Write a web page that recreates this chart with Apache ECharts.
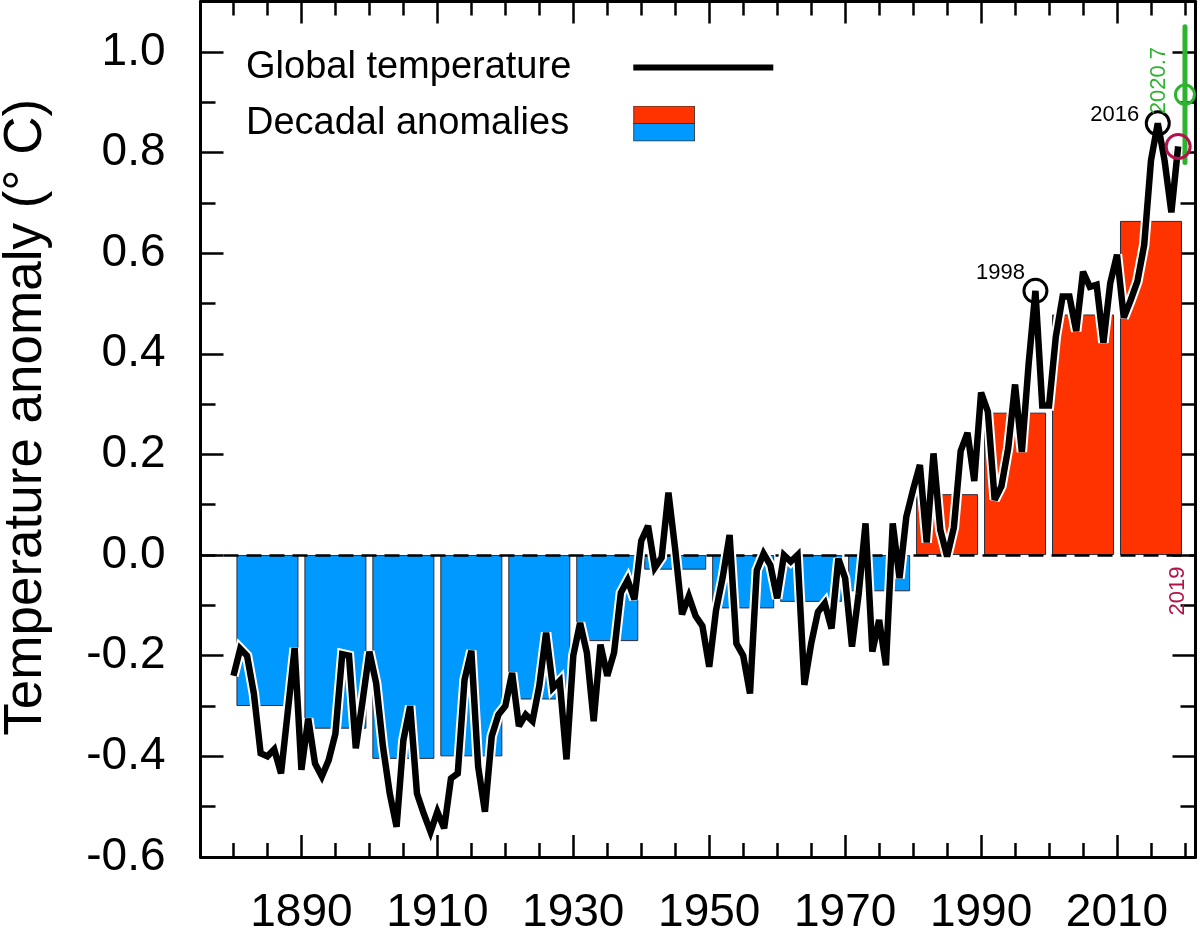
<!DOCTYPE html>
<html>
<head>
<meta charset="utf-8">
<script src="https://cdn.jsdelivr.net/npm/echarts@6/dist/echarts.min.js"></script>
<style>
html,body{margin:0;padding:0;background:#ffffff;}
#chart{width:1200px;height:930px;}
</style>
</head>
<body>
<div id="chart"></div>
<script>
// ---------------- DATA ----------------
const years = [
  1880,1881,1882,1883,1884,1885,1886,1887,1888,1889,
  1890,1891,1892,1893,1894,1895,1896,1897,1898,1899,
  1900,1901,1902,1903,1904,1905,1906,1907,1908,1909,
  1910,1911,1912,1913,1914,1915,1916,1917,1918,1919,
  1920,1921,1922,1923,1924,1925,1926,1927,1928,1929,
  1930,1931,1932,1933,1934,1935,1936,1937,1938,1939,
  1940,1941,1942,1943,1944,1945,1946,1947,1948,1949,
  1950,1951,1952,1953,1954,1955,1956,1957,1958,1959,
  1960,1961,1962,1963,1964,1965,1966,1967,1968,1969,
  1970,1971,1972,1973,1974,1975,1976,1977,1978,1979,
  1980,1981,1982,1983,1984,1985,1986,1987,1988,1989,
  1990,1991,1992,1993,1994,1995,1996,1997,1998,1999,
  2000,2001,2002,2003,2004,2005,2006,2007,2008,2009,
  2010,2011,2012,2013,2014,2015,2016,2017,2018,2019
];
const globalTemp = [
  -0.24,-0.186,-0.20,-0.275,-0.394,-0.40,-0.386,-0.434,-0.31,-0.185,
  -0.427,-0.325,-0.414,-0.44,-0.408,-0.355,-0.197,-0.20,-0.384,-0.29,
  -0.192,-0.255,-0.381,-0.474,-0.54,-0.368,-0.30,-0.474,-0.514,-0.55,
  -0.51,-0.543,-0.444,-0.434,-0.248,-0.19,-0.42,-0.51,-0.36,-0.317,
  -0.30,-0.234,-0.34,-0.317,-0.33,-0.26,-0.154,-0.264,-0.25,-0.406,
  -0.20,-0.135,-0.194,-0.33,-0.178,-0.24,-0.194,-0.075,-0.05,-0.088,
  0.028,0.058,-0.025,-0.005,0.124,0.011,-0.118,-0.082,-0.121,-0.141,
  -0.222,-0.11,-0.043,0.04,-0.176,-0.20,-0.275,-0.03,0.003,-0.02,
  -0.086,0.0,-0.013,0.0,-0.258,-0.176,-0.113,-0.096,-0.146,-0.007,
  -0.046,-0.182,-0.076,0.063,-0.192,-0.129,-0.219,0.063,-0.046,0.076,
  0.13,0.179,0.025,0.202,0.05,-0.003,0.055,0.207,0.243,0.147,
  0.323,0.285,0.110,0.137,0.213,0.339,0.205,0.38,0.525,0.297,
  0.297,0.434,0.514,0.514,0.445,0.563,0.533,0.537,0.422,0.54,
  0.597,0.472,0.506,0.544,0.616,0.784,0.858,0.784,0.681,0.812
];
const decadeCenters = [1885,1895,1905,1915,1925,1935,1945,1955,1965,1975,1985,1995,2005,2015];
const decadalAnomaly = [-0.30,-0.345,-0.405,-0.40,-0.287,-0.171,-0.029,-0.106,-0.093,-0.072,0.121,0.283,0.478,0.664];

const recordYears = [1998, 2016];
const recordValues = [0.525, 0.858];
const latestYear = 2019;
const latestValue = 0.812;
const partialYear = 2020;
const partialLabel = '2020.7';
const partialValue = 0.915;
const partialLow = 0.78;
const partialHigh = 1.05;

const xMajorTicks = [1890,1910,1930,1950,1970,1990,2010];
const xMinorTicks = [1880,1885,1890,1895,1900,1905,1910,1915,1920,1925,1930,1935,1940,1945,1950,1955,1960,1965,1970,1975,1980,1985,1990,1995,2000,2005,2010,2015,2020];
const yMajorTicks = [-0.6,-0.4,-0.2,0.0,0.2,0.4,0.6,0.8,1.0];
const yMinorTicks = [-0.5,-0.4,-0.3,-0.2,-0.1,0.0,0.1,0.2,0.3,0.4,0.5,0.6,0.7,0.8,0.9,1.0];

const seriesNames = { line: 'Global temperature', bars: 'Decadal anomalies' };
const yTitle = 'Temperature anomaly (° C)';

// ---------------- STYLE ----------------
const FONT = "'Liberation Sans', Arial, Helvetica, sans-serif";
const RED = '#ff3300', BLUE = '#0099ff', CRIMSON = '#b3124a', GREEN = '#2db32d';
const X_MIN = 1875.15, X_MAX = 2021.55, Y_MIN = -0.6, Y_MAX = 1.1;
const GRID = { left: 200.5, right: 4.5, top: 1.5, bottom: 73, containLabel: false, outerBoundsMode: 'none' };

function xAx(gridIndex, position, ticks, len, withLine, labels) {
  return {
    type: 'value', gridIndex, position, min: X_MIN, max: X_MAX,
    axisLine: { show: withLine, onZero: false, lineStyle: { color: '#000', width: 3 } },
    axisTick: { show: true, inside: true, length: len, customValues: ticks, lineStyle: { color: '#000', width: 2.5 } },
    axisLabel: labels ? { show: true, customValues: labels, margin: 33, fontSize: 46, fontFamily: FONT, color: '#000', formatter: v => String(Math.round(v)) } : { show: false },
    splitLine: { show: false }
  };
}
function yAx(gridIndex, position, ticks, len, withLine, labels) {
  const ax = {
    type: 'value', gridIndex, position, min: Y_MIN, max: Y_MAX,
    axisLine: { show: withLine, onZero: false, lineStyle: { color: '#000', width: 3 } },
    axisTick: { show: true, inside: true, length: len, customValues: ticks, lineStyle: { color: '#000', width: 2.5 } },
    axisLabel: labels ? { show: true, customValues: labels, margin: 35, fontSize: 46, fontFamily: FONT, color: '#000', formatter: v => v.toFixed(1) } : { show: false },
    splitLine: { show: false }
  };
  if (labels) {
    ax.name = yTitle;
    ax.nameLocation = 'middle';
    ax.nameGap = 148;
    ax.nameRotate = 90;
    ax.nameTextStyle = { fontSize: 53, fontFamily: FONT, color: '#000', padding: [0, 0, 0, 24] };
  }
  return ax;
}

const boxSvg = "<svg xmlns='http://www.w3.org/2000/svg' width='62' height='36'>" +
  "<rect x='0.5' y='0.5' width='61' height='17.5' fill='" + RED + "' stroke='#333' stroke-width='1'/>" +
  "<rect x='0.5' y='18' width='61' height='17.5' fill='" + BLUE + "' stroke='#333' stroke-width='1'/></svg>";
const boxIcon = 'image://data:image/svg+xml;charset=utf-8,' + encodeURIComponent(boxSvg);

const lineData = years.map((y, i) => [y, globalTemp[i]]);
const barData = decadeCenters.map((c, i) => [c, decadalAnomaly[i]]);
const recordLabelOffsets = [[-35, -18], [-43, -8]];
const recordData = recordYears.map((y, i) => ({
  value: [y, recordValues[i]],
  label: { show: true, position: 'inside', offset: recordLabelOffsets[i], formatter: String(y), fontSize: 22, fontFamily: FONT, color: '#000' }
}));

const option = {
  backgroundColor: '#ffffff',
  animation: false,
  grid: [
    Object.assign({}, GRID),
    Object.assign({}, GRID)
  ],
  xAxis: [
    xAx(0, 'bottom', xMajorTicks, 22, true, xMajorTicks),
    xAx(0, 'top', xMajorTicks, 22, true, null),
    xAx(1, 'bottom', xMinorTicks, 14, false, null),
    xAx(1, 'top', xMinorTicks, 14, false, null)
  ],
  yAxis: [
    yAx(0, 'left', yMajorTicks, 23, true, yMajorTicks),
    yAx(0, 'right', yMajorTicks, 23, true, null),
    yAx(1, 'left', yMinorTicks, 15, false, null),
    yAx(1, 'right', yMinorTicks, 15, false, null)
  ],
  legend: [
    {
      data: [{ name: seriesNames.line, icon: 'rect' }],
      left: 246, top: 48.5, padding: 0, itemWidth: 140, itemHeight: 6, align: 'right', selectedMode: false,
      textStyle: { fontSize: 38, fontFamily: FONT, color: '#000', padding: [0, 57, 0, 0] }
    },
    {
      data: [{ name: seriesNames.bars, icon: boxIcon }],
      left: 246, top: 104.5, padding: 0, itemWidth: 62, itemHeight: 36, align: 'right', selectedMode: false,
      textStyle: { fontSize: 38, fontFamily: FONT, color: '#000', padding: [0, 59, 0, 0] }
    }
  ],
  series: [
    {
      name: seriesNames.bars, type: 'bar', xAxisIndex: 0, yAxisIndex: 0, barWidth: 62, z: 2,
      data: barData,
      itemStyle: { color: p => (p.value[1] >= 0 ? RED : BLUE), borderColor: '#2a2a3a', borderWidth: 1 },
      markLine: {
        silent: true, z: 3, symbol: ['none', 'none'], label: { show: false },
        lineStyle: { color: '#000', width: 2.5, type: [15, 8] },
        data: [{ yAxis: 0 }]
      }
    },
    {
      name: 'halo', type: 'line', xAxisIndex: 0, yAxisIndex: 0, z: 4, silent: true,
      data: lineData, showSymbol: false,
      lineStyle: { color: '#ffffff', width: 10.5, join: 'miter', miterLimit: 3 }
    },
    {
      name: seriesNames.line, type: 'line', xAxisIndex: 0, yAxisIndex: 0, z: 5,
      data: lineData, showSymbol: false, itemStyle: { color: '#000' },
      lineStyle: { color: '#000', width: 6.5, join: 'miter', miterLimit: 3 }
    },
    {
      name: 'records', type: 'scatter', xAxisIndex: 0, yAxisIndex: 0, z: 6,
      symbol: 'circle', symbolSize: 23,
      itemStyle: { color: 'rgba(0,0,0,0)', borderColor: '#000', borderWidth: 3, opacity: 1 },
      data: recordData
    },
    {
      name: 'latest', type: 'scatter', xAxisIndex: 0, yAxisIndex: 0, z: 6,
      symbol: 'circle', symbolSize: 24,
      itemStyle: { color: 'rgba(0,0,0,0)', borderColor: CRIMSON, borderWidth: 3, opacity: 1 },
      data: [[latestYear, latestValue]]
    },
    {
      name: 'latestLabel', type: 'scatter', xAxisIndex: 0, yAxisIndex: 0, z: 6,
      symbolSize: 0, itemStyle: { opacity: 1 },
      label: { show: true, position: 'inside', rotate: 90, offset: [-36, 0], formatter: String(latestYear), fontSize: 22, fontFamily: FONT, color: CRIMSON },
      data: [[latestYear, 0]]
    },
    {
      name: 'partialRange', type: 'line', xAxisIndex: 0, yAxisIndex: 0, z: 6, showSymbol: false,
      lineStyle: { color: GREEN, width: 5, cap: 'round' },
      data: [[partialYear, partialLow], [partialYear, partialHigh]]
    },
    {
      name: 'partial', type: 'scatter', xAxisIndex: 0, yAxisIndex: 0, z: 7,
      symbol: 'circle', symbolSize: 19,
      itemStyle: { color: 'rgba(0,0,0,0)', borderColor: GREEN, borderWidth: 3, opacity: 1 },
      label: { show: true, position: 'inside', rotate: 90, offset: [14, -26], formatter: partialLabel, fontSize: 22, fontFamily: FONT, color: GREEN },
      data: [[partialYear, partialValue]]
    }
  ]
};

const chart = echarts.init(document.getElementById('chart'), null, { renderer: 'canvas' });
chart.setOption(option);
</script>
</body>
</html>
